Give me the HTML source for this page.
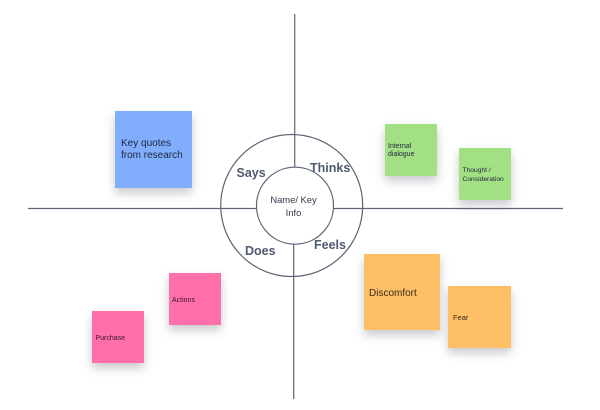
<!DOCTYPE html>
<html>
<head>
<meta charset="utf-8">
<style>
html,body{margin:0;padding:0;background:#fff;}
#c{position:relative;width:600px;height:410px;overflow:hidden;background:#fff;font-family:"Liberation Sans",sans-serif;filter:blur(.3px);}
svg{position:absolute;left:0;top:0;}
.n{position:absolute;box-shadow:0 5px 9px rgba(60,60,80,.28);}
.t{position:absolute;white-space:nowrap;color:#1f2540;}
.l{position:absolute;white-space:nowrap;color:#4f5a70;font-weight:bold;font-size:12.5px;line-height:15px;}
</style>
</head>
<body>
<div id="c">
<svg width="600" height="410" viewBox="0 0 600 410">
<g fill="none" stroke="#5f6475" stroke-width="1.2">
<circle cx="291.7" cy="205.5" r="71"/>
<circle cx="295" cy="205.7" r="38.5"/>
<line x1="294.7" y1="14" x2="294.7" y2="167"/>
<line x1="293.7" y1="244" x2="293.7" y2="399"/>
<line x1="28" y1="208.5" x2="257" y2="208.5"/>
<line x1="334" y1="208.5" x2="563" y2="208.5"/>
</g>
</svg>

<div class="n" style="left:115px;top:111px;width:77px;height:77px;background:#80aefc;"></div>
<div class="n" style="left:384.5px;top:123.5px;width:52px;height:52px;background:#a2e083;"></div>
<div class="n" style="left:458.5px;top:147.5px;width:52px;height:52px;background:#a2e083;"></div>
<div class="n" style="left:364px;top:253.5px;width:76px;height:76.5px;background:#ffbf66;"></div>
<div class="n" style="left:448px;top:285.7px;width:62.5px;height:62px;background:#ffbf66;"></div>
<div class="n" style="left:168.5px;top:272.7px;width:52px;height:52.3px;background:#ff70ab;"></div>
<div class="n" style="left:92px;top:311px;width:52px;height:52px;background:#ff70ab;"></div>

<div class="t" style="left:121px;top:138px;font-size:10px;line-height:12px;">Key quotes<br>from research</div>
<div class="t" style="left:388px;top:142.5px;font-size:7px;line-height:8.5px;">Internal<br>dialogue</div>
<div class="t" style="left:462.5px;top:167px;font-size:6.7px;line-height:8.5px;">Thought /<br>Consideration</div>
<div class="t" style="left:369px;top:287.5px;font-size:10px;line-height:12px;color:#3a2a18;">Discomfort</div>
<div class="t" style="left:453px;top:312.5px;font-size:7.5px;line-height:9px;color:#3a2a18;">Fear</div>
<div class="t" style="left:172px;top:295.5px;font-size:7px;line-height:9px;color:#3f1030;">Actions</div>
<div class="t" style="left:95.5px;top:334px;font-size:7px;line-height:9px;color:#3f1030;">Purchase</div>

<div class="t" style="left:263.5px;top:194px;width:60px;text-align:center;font-size:9.4px;line-height:12.5px;color:#33384a;">Name/ Key<br>Info</div>

<div class="l" style="left:236.5px;top:165.5px;">Says</div>
<div class="l" style="left:310px;top:160.5px;">Thinks</div>
<div class="l" style="left:245px;top:244px;">Does</div>
<div class="l" style="left:314px;top:238px;">Feels</div>
</div>
</body>
</html>
